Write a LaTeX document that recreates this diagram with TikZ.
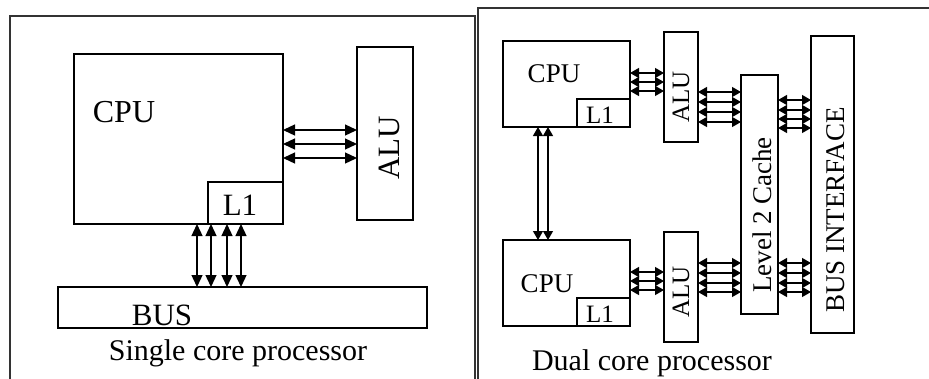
\documentclass[tikz,border=0pt]{standalone}
\usepackage{fontspec}
\setmainfont{Liberation Serif}
\usetikzlibrary{arrows.meta}
\begin{document}
\begin{tikzpicture}[x=1pt,y=-1pt,
  box/.style={draw, line width=1.3pt, inner sep=0, outer sep=0, anchor=north west},
  frameline/.style={draw=black!80, line width=1.6pt},
  bigarr/.style={line width=1.3pt, {Triangle[length=12pt,width=11pt]}-{Triangle[length=12pt,width=11pt]}},
  smallarr/.style={line width=1.2pt, {Triangle[length=9pt,width=10pt]}-{Triangle[length=9pt,width=10pt]}},
  lbl/.style={inner sep=0, anchor=base},
  vlbl/.style={inner sep=0, rotate=90}
]
\useasboundingbox (0,0) rectangle (929,378);
\clip (0,0) rectangle (929,378);
% frames
\draw[frameline] (10,400) -- (10,16) -- (475,16) -- (475,400);
\draw[frameline] (478,400) -- (478,8) -- (945,8);

% ---------- single core ----------
\node[box, minimum width=209pt, minimum height=170pt] (cpuA) at (74,54) {};
\node[box, minimum width=75pt, minimum height=42pt] (l1A) at (208,182) {};
\node[box, minimum width=56pt, minimum height=173pt] (aluA) at (357,47) {};
\node[box, minimum width=369pt, minimum height=41pt] (busA) at (58,287) {};
\node[lbl, font=\fontsize{32}{36}\selectfont] (cpuAt) at (124,122) {CPU};
\node[lbl, font=\fontsize{31}{36}\selectfont] (l1At) at (240,215) {L1};
\node[vlbl, font=\fontsize{31}{36}\selectfont] (aluAt) at (389,148) {ALU};
\node[lbl, font=\fontsize{31}{36}\selectfont] (busAt) at (162,325) {BUS};
\node[lbl, font=\fontsize{30}{36}\selectfont] (capA) at (238,360) {Single core processor};
\foreach \yy in {130,144,158}
  \draw[bigarr] (cpuA.east |- 0,\yy) -- (aluA.west |- 0,\yy);
\foreach \xx in {197,211,227,241}
  \draw[bigarr] (\xx,0 |- cpuA.south) -- (\xx,0 |- busA.north);

% ---------- dual core ----------
\node[box, minimum width=127pt, minimum height=86pt] (cpuB) at (503,41) {};
\node[box, minimum width=53pt, minimum height=28pt] (l1B) at (577,99) {};
\node[box, minimum width=127pt, minimum height=86pt] (cpuC) at (503,240) {};
\node[box, minimum width=53pt, minimum height=28pt] (l1C) at (577,298) {};
\node[box, minimum width=34pt, minimum height=110pt] (aluB) at (664,32) {};
\node[box, minimum width=34pt, minimum height=110pt] (aluC) at (664,232) {};
\node[box, minimum width=37pt, minimum height=239pt] (ltwo) at (741,75) {};
\node[box, minimum width=43pt, minimum height=297pt] (bif) at (811,36) {};

\node[lbl, font=\fontsize{27}{30}\selectfont] (cpuBt) at (554,82) {CPU};
\node[lbl, font=\fontsize{27}{30}\selectfont] (cpuCt) at (547,292) {CPU};
\node[lbl, font=\fontsize{25}{30}\selectfont] (l1Bt) at (600,123) {L1};
\node[lbl, font=\fontsize{25}{30}\selectfont] (l1Ct) at (600,322) {L1};
\node[vlbl, font=\fontsize{25}{30}\selectfont] (aluBt) at (681,97) {ALU};
\node[vlbl, font=\fontsize{25}{30}\selectfont] (aluCt) at (681,292) {ALU};
\node[vlbl, font=\fontsize{27}{30}\selectfont] (ltwot) at (762,215) {Level 2 Cache};
\node[vlbl, font=\fontsize{27}{30}\selectfont] (bift) at (836,210) {BUS INTERFACE};
\node[lbl, font=\fontsize{30}{36}\selectfont] (capB) at (652,370) {Dual core processor};

\foreach \xx in {538,548}
  \draw[smallarr] (\xx,0 |- cpuB.south) -- (\xx,0 |- cpuC.north);
\foreach \yy in {73,82,91}
  \draw[smallarr] (cpuB.east |- 0,\yy) -- (aluB.west |- 0,\yy);
\foreach \yy in {92,102,112,122}
  \draw[smallarr] (aluB.east |- 0,\yy) -- (ltwo.west |- 0,\yy);
\foreach \yy in {100,110,119,128}
  \draw[smallarr] (ltwo.east |- 0,\yy) -- (bif.west |- 0,\yy);
\foreach \yy in {272,281,290}
  \draw[smallarr] (cpuC.east |- 0,\yy) -- (aluC.west |- 0,\yy);
\foreach \yy in {263,273,283,292}
  \draw[smallarr] (aluC.east |- 0,\yy) -- (ltwo.west |- 0,\yy);
\foreach \yy in {263,273,283,292}
  \draw[smallarr] (ltwo.east |- 0,\yy) -- (bif.west |- 0,\yy);
\end{tikzpicture}
\end{document}
